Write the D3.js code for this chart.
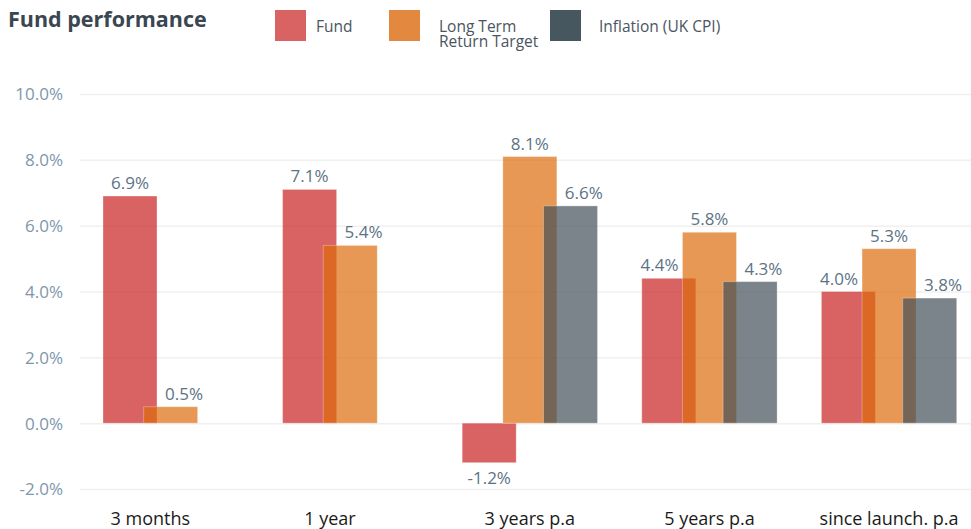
<!DOCTYPE html>
<html>
<head>
<meta charset="utf-8">
<script src="https://cdn.jsdelivr.net/npm/d3@7"></script>
<style>
  body { margin: 0; background: #fff; }
  svg { display: block; font-family: "Open Sans", sans-serif; }
</style>
</head>
<body>
<div id="drawhere"></div>
<script>
// chart data
var categories = ["3 months", "1 year", "3 years p.a", "5 years p.a", "since launch. p.a"];
var seriesNames = ["Fund", "Long Term Return Target", "Inflation (UK CPI)"];
var fundValues = [6.9, 7.1, -1.2, 4.4, 4.0];
var targetValues = [0.5, 5.4, 8.1, 5.8, 5.3];
var inflationValues = [null, null, 6.6, 4.3, 3.8];
var yTicks = [-2, 0, 2, 4, 6, 8, 10];

var width = 971, height = 529;

var svg = d3.select("#drawhere").append("svg")
    .attr("width", width)
    .attr("height", height);

// scales
var y = d3.scaleLinear()
    .domain([-2, 10])
    .range([489, 94]);

var x = d3.scaleBand()
    .domain(categories)
    .range([81, 979]);

var seriesX = d3.scalePoint()
    .domain(seriesNames)
    .range([0, 81.3]);

var barWidth = 54;
var groupInset = 22;

// gridlines + tick labels
var yAxis = d3.axisLeft(y)
    .tickValues(yTicks)
    .tickSize(-(width - 80))
    .tickFormat(function(d) { return d.toFixed(1) + "%"; });

var axisG = svg.append("g")
    .attr("transform", "translate(80,0)")
    .call(yAxis);
axisG.select(".domain").remove();
axisG.selectAll(".tick line")
    .attr("stroke", "#f0f0f0")
    .attr("stroke-width", 1.5);
axisG.selectAll(".tick text")
    .attr("x", -17)
    .attr("dy", "0.35em")
    .attr("fill", "#7d97ab")
    .style("font-size", "17px")
    .style("font-family", "'Open Sans', sans-serif");

// bars
var series = [
    {name: seriesNames[0], values: fundValues, fill: "rgb(201,32,32)"},
    {name: seriesNames[1], values: targetValues, fill: "rgb(219,108,12)"},
    {name: seriesNames[2], values: inflationValues, fill: "rgb(67,80,89)"}
];

function barLeft(cat, name) {
    return x(cat) + groupInset + seriesX(name);
}

series.forEach(function(s) {
    var data = categories.map(function(c, i) { return {cat: c, v: s.values[i]}; })
        .filter(function(d) { return d.v !== null; });

    svg.append("g").selectAll("rect")
        .data(data)
        .enter().append("rect")
        .attr("x", function(d) { return barLeft(d.cat, s.name); })
        .attr("y", function(d) { return y(Math.max(0, d.v)); })
        .attr("width", barWidth)
        .attr("height", function(d) { return Math.abs(y(d.v) - y(0)); })
        .attr("fill", s.fill)
        .attr("fill-opacity", 0.7)
        .attr("stroke", "#fff")
        .attr("stroke-opacity", 0.3);
});

// value labels: centred on the bar, nudged off a taller neighbouring bar
var labelG = svg.append("g");
series.forEach(function(s, si) {
    categories.forEach(function(c, ci) {
        var v = s.values[ci];
        if (v === null) return;
        var left = barLeft(c, s.name);
        var t = labelG.append("text")
            .attr("y", v >= 0 ? y(v) - 7 : y(v) + 21)
            .attr("text-anchor", "middle")
            .attr("fill", "#5c7385")
            .style("font-size", "17px")
            .text(v.toFixed(1) + "%");
        var w = t.node().getComputedTextLength();
        var cx = left + barWidth / 2;
        if (v >= 0) {
            var prev = si > 0 ? series[si - 1].values[ci] : null;
            var next = si < series.length - 1 ? series[si + 1].values[ci] : null;
            if (prev !== null && prev > v) {
                var prevRight = barLeft(c, series[si - 1].name) + barWidth;
                cx = Math.max(cx, prevRight + 8 + w / 2);
            } else if (next !== null && next > v) {
                var nextLeft = barLeft(c, series[si + 1].name);
                cx = Math.min(cx, nextLeft - 4 - w / 2);
            }
        }
        t.attr("x", cx);
    });
});

// category labels, centred under the bars that are present
svg.append("g").selectAll("text")
    .data(categories)
    .enter().append("text")
    .attr("x", function(c, i) {
        var present = series.filter(function(s) { return s.values[i] !== null; });
        var left = barLeft(c, present[0].name);
        var right = barLeft(c, present[present.length - 1].name) + barWidth;
        return (left + right) / 2;
    })
    .attr("y", 525)
    .attr("text-anchor", "middle")
    .attr("fill", "#1a1a1a")
    .style("font-size", "18px")
    .text(function(d) { return d; });

// title
svg.append("text")
    .attr("x", 8)
    .attr("y", 27)
    .attr("fill", "#3a4650")
    .style("font-weight", "bold")
    .style("font-size", "21.5px")
    .text("Fund performance");

// legend
var legendItems = [
    {x: 275, fill: "#d96363", lines: ["Fund"], tx: 316},
    {x: 389, fill: "#e3893f", lines: ["Long Term", "Return Target"], tx: 439},
    {x: 550, fill: "#46575f", lines: ["Inflation (UK CPI)"], tx: 599}
];

var legend = svg.append("g");
legendItems.forEach(function(d) {
    legend.append("rect")
        .attr("x", d.x)
        .attr("y", 10)
        .attr("width", 31)
        .attr("height", 31)
        .attr("fill", d.fill);
    legend.append("text")
        .attr("x", d.tx)
        .attr("y", 32)
        .attr("fill", "#4a5560")
        .style("font-size", "15.5px")
        .selectAll("tspan")
        .data(d.lines)
        .enter().append("tspan")
        .attr("x", d.tx)
        .attr("dy", function(l, i) { return i === 0 ? 0 : 15; })
        .text(function(l) { return l; });
});
</script>
</body>
</html>
